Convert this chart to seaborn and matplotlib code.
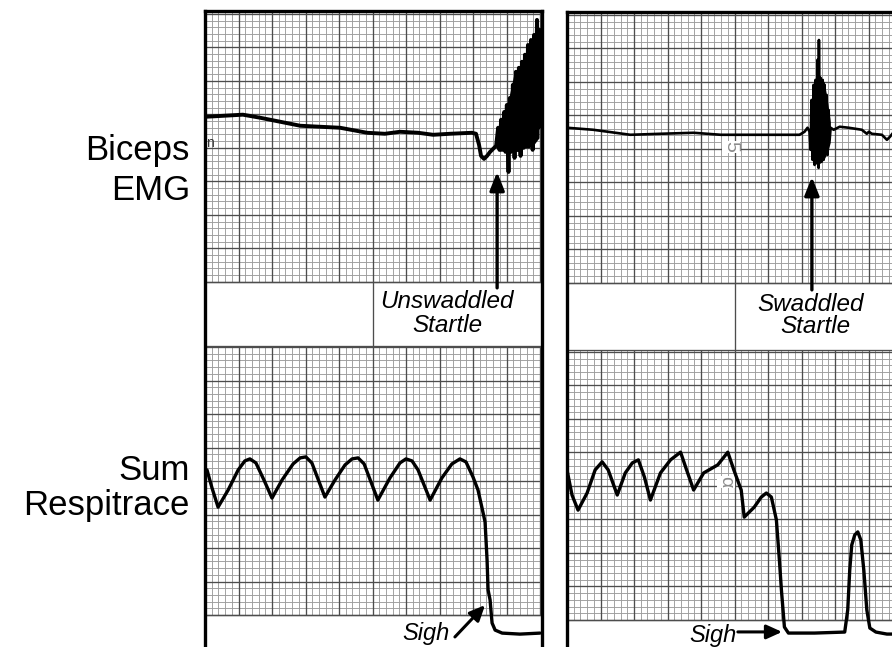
import numpy as np
import matplotlib
matplotlib.use("Agg")
import matplotlib.pyplot as plt
import seaborn as sns

# x: chart divisions from the panel's left edge, y: divisions above the grid bottom
# --- Biceps EMG, unswaddled startle (left panel)
emg_unsw_t = [0.06, 0.60, 1.13, 1.64, 2.24, 2.84, 3.43, 4.03, 4.84, 5.37, 5.82, 6.36,
              6.81, 7.31, 7.97, 8.09, 8.18, 8.24, 8.33, 8.42, 8.51, 8.63, 8.69, 8.75,
              8.79, 8.84, 8.88, 8.93, 8.97, 9.01, 9.06, 9.10, 9.15, 9.19, 9.24, 9.28,
              9.33, 9.37, 9.42, 9.46, 9.51, 9.55, 9.60, 9.64, 9.69, 9.73, 9.78, 9.82,
              9.87, 9.91, 9.96, 10.0]
emg_unsw_v = [4.93, 4.96, 4.99, 4.90, 4.78, 4.66, 4.63, 4.60, 4.45, 4.42, 4.48, 4.45,
              4.39, 4.42, 4.45, 4.42, 4.09, 3.76, 3.67, 3.76, 3.88, 4.00, 4.06, 4.60,
              3.94, 4.84, 4.06, 5.07, 3.88, 5.28, 3.28, 5.49, 3.94, 5.88, 3.70, 6.27,
              3.94, 6.39, 3.76, 6.57, 4.00, 6.78, 4.06, 7.07, 4.18, 7.22, 3.94, 7.37,
              4.30, 7.82, 4.60, 7.52]
burst_unsw_t = [8.78, 8.93, 9.07, 9.22, 9.37, 9.52, 9.67, 9.82, 9.97]
burst_unsw_hi = [4.6, 5.0, 5.5, 6.2, 6.4, 6.7, 7.1, 7.4, 7.6]
burst_unsw_lo = [3.9, 3.9, 3.8, 3.9, 3.9, 4.0, 4.0, 4.1, 4.3]

# --- Biceps EMG, swaddled startle (right panel)
emg_sw_t = [0.00, 0.78, 1.89, 2.79, 3.78, 4.59, 5.80, 6.94, 7.09, 7.18, 7.24,
            7.27, 7.30, 7.33, 7.36, 7.39, 7.42, 7.45, 7.48, 7.51, 7.52, 7.54,
            7.57, 7.60, 7.63, 7.66, 7.69, 7.72, 7.75, 7.78, 7.81, 7.84, 7.87,
            7.96, 8.14, 8.41, 8.80, 8.95, 9.01, 9.10, 9.40, 9.55, 9.64, 9.76]
emg_sw_v = [4.63, 4.57, 4.42, 4.45, 4.48, 4.42, 4.42, 4.42, 4.51, 4.63, 4.51,
            3.97, 5.46, 3.67, 5.91, 3.52, 6.06, 3.97, 6.66, 3.43, 7.25, 3.82,
            6.12, 3.61, 6.06, 3.67, 5.91, 3.97, 5.61, 3.82, 5.16, 4.27, 4.63,
            4.57, 4.66, 4.63, 4.57, 4.45, 4.51, 4.45, 4.42, 4.27, 4.36, 4.51]
burst_sw_t = [7.28, 7.38, 7.48, 7.58, 7.68, 7.78, 7.86]
burst_sw_hi = [5.0, 5.9, 6.1, 6.1, 6.0, 5.4, 4.8]
burst_sw_lo = [4.0, 3.6, 3.5, 3.6, 3.7, 3.9, 4.2]

# --- Sum Respitrace
resp_unsw_t = [0.06, 0.21, 0.39, 0.69, 0.99, 1.19, 1.34, 1.52, 1.76, 2.00,
               2.30, 2.63, 2.84, 3.01, 3.19, 3.58, 3.88, 4.18, 4.39, 4.57,
               4.75, 5.16, 5.52, 5.82, 6.00, 6.18, 6.36, 6.72, 7.07, 7.37,
               7.61, 7.79, 8.00, 8.15, 8.27, 8.36, 8.42, 8.45, 8.51, 8.54,
               8.57, 8.66, 8.87, 9.40, 10.0]
resp_unsw_v = [4.33, 3.79, 3.22, 3.73, 4.33, 4.60, 4.66, 4.54, 4.03, 3.49,
               4.03, 4.51, 4.69, 4.72, 4.54, 3.52, 4.03, 4.48, 4.66, 4.69,
               4.51, 3.43, 4.09, 4.54, 4.66, 4.60, 4.33, 3.43, 4.09, 4.51,
               4.66, 4.57, 4.12, 3.73, 3.19, 2.78, 1.64, 0.75, 0.45, 0.09,
               -0.24, -0.45, -0.54, -0.57, -0.54]
resp_sw_t = [0.00, 0.15, 0.33, 0.60, 0.84, 1.05, 1.23, 1.50, 1.74, 1.95,
             2.13, 2.31, 2.49, 2.79, 3.09, 3.39, 3.57, 3.78, 4.08, 4.50,
             4.80, 4.98, 5.20, 5.29, 5.59, 5.80, 5.95, 6.10, 6.25, 6.34,
             6.40, 6.49, 6.61, 7.39, 8.29, 8.38, 8.44, 8.50, 8.59, 8.68,
             8.77, 8.86, 8.95, 9.04, 9.22, 9.55, 9.85]
resp_sw_v = [4.48, 3.73, 3.28, 3.79, 4.48, 4.72, 4.48, 3.73, 4.39, 4.69,
             4.78, 4.27, 3.58, 4.39, 4.78, 5.01, 4.48, 3.88, 4.39, 4.63,
             5.01, 4.48, 3.88, 3.07, 3.37, 3.67, 3.79, 3.67, 2.99, 1.79,
             0.90, -0.21, -0.39, -0.39, -0.36, 0.30, 1.49, 2.24, 2.54, 2.63,
             2.39, 1.49, 0.30, -0.24, -0.36, -0.42, -0.42]

row_labels = [("Biceps", 160), ("EMG", 200), ("Sum", 480), ("Respitrace", 515)]

# --- style
sns.set_theme(style="white")
plt.rcParams['font.family'] = ['Liberation Sans', 'DejaVu Sans']
plt.rcParams['text.color'] = 'black'

W, H = 892, 647
DIV = 33.5          # pixels per major division of the chart paper
MINOR = '#9c9c9c'
MAJOR = '#4d4d4d'

fig = plt.figure(figsize=(W / 100, H / 100), dpi=100)
fig.patch.set_facecolor('white')


def draw_paper(ax, x_max, y_lo, y_hi):
    """Chart-paper grid: minor lines every 0.2 div, heavier every division."""
    xs = np.arange(0, x_max + 1e-9, 0.2)
    ys = np.arange(y_lo, y_hi + 1e-9, 0.2)
    ix, iy = np.arange(len(xs)), np.arange(len(ys))
    ax.vlines(xs[ix % 5 != 0], y_lo, y_hi, color=MINOR, lw=0.65, zorder=1)
    ax.hlines(ys[iy % 5 != 0], 0, x_max, color=MINOR, lw=0.65, zorder=1)
    ax.vlines(xs[ix % 5 == 0], y_lo, y_hi, color=MAJOR, lw=0.95, zorder=2)
    ax.hlines(ys[iy % 5 == 0], 0, x_max, color=MAJOR, lw=0.95, zorder=2)
    ax.hlines([y_lo, y_hi], 0, x_max, color=MAJOR, lw=0.95, zorder=2)


def panel(left_px, top_px, emg_base, strip_lo, resp_base):
    x_max = 10.06
    ax = fig.add_axes([left_px / W, 0, x_max * DIV / W, (H - top_px) / H])
    y_top = (H - top_px) / DIV
    ax.set_xlim(0, x_max)
    ax.set_ylim(0, y_top)
    ax.set_xticks([])
    ax.set_yticks([])
    ax.set_facecolor('white')
    draw_paper(ax, x_max, emg_base, y_top)
    draw_paper(ax, x_max, resp_base, strip_lo)
    ax.vlines(5, strip_lo, emg_base, color=MAJOR, lw=0.95, zorder=2)
    for side in ['left', 'top', 'right']:
        ax.spines[side].set_linewidth(2.4)
        ax.spines[side].set_color('black')
    ax.spines['bottom'].set_visible(False)
    return ax


ax_l = panel(205, 11, 10.90, 9.00, 0.955)
ax_r = panel(567, 12, 10.87, 8.87, 0.806)

# traces
sns.lineplot(x=emg_unsw_t, y=np.add(emg_unsw_v, 10.90), ax=ax_l, color='black',
             linewidth=2.8, sort=False, estimator=None, legend=False, zorder=5)
ax_l.fill_between(burst_unsw_t, np.add(burst_unsw_lo, 10.90), np.add(burst_unsw_hi, 10.90),
                  color='black', lw=0, zorder=5)
sns.lineplot(x=resp_unsw_t, y=np.add(resp_unsw_v, 0.955), ax=ax_l, color='black',
             linewidth=2.4, sort=False, estimator=None, legend=False, zorder=5)

sns.lineplot(x=emg_sw_t, y=np.add(emg_sw_v, 10.87), ax=ax_r, color='black',
             linewidth=1.9, sort=False, estimator=None, legend=False, zorder=5)
ax_r.fill_between(burst_sw_t, np.add(burst_sw_lo, 10.87), np.add(burst_sw_hi, 10.87),
                  color='black', lw=0, zorder=5)
sns.lineplot(x=resp_sw_t, y=np.add(resp_sw_v, 0.806), ax=ax_r, color='black',
             linewidth=2.4, sort=False, estimator=None, legend=False, zorder=5)

# paper markings
ax_r.text(4.9, 14.93, '5', rotation=-90, color='#8c8c8c', fontsize=14,
          ha='center', va='center', zorder=3,
          bbox=dict(facecolor='white', edgecolor='none', pad=0.5))
ax_r.text(4.75, 4.93, 'α', rotation=-90, color='#8c8c8c', fontsize=14,
          ha='center', va='center', zorder=3,
          bbox=dict(facecolor='white', edgecolor='none', pad=0.3))
ax_l.text(0.14, 15.04, 'n', color='#333333', fontsize=10, ha='center', va='center', zorder=3)

# startle arrows and labels
big_head = dict(arrowstyle='-|>,head_length=0.55,head_width=0.22', lw=2.4,
                color='black', shrinkA=0, shrinkB=0, mutation_scale=20)
small_head = dict(arrowstyle='-|>,head_length=0.55,head_width=0.25', lw=2.2,
                  color='black', shrinkA=0, shrinkB=0, mutation_scale=17)

ax_l.annotate('', xy=(8.72, 14.18), xytext=(8.72, 10.72), arrowprops=big_head, zorder=6)
ax_l.text(7.22, 10.12, 'Unswaddled', style='italic', fontsize=17.5, ha='center', va='baseline', zorder=6)
ax_l.text(7.24, 9.40, 'Startle', style='italic', fontsize=17.5, ha='center', va='baseline', zorder=6)

ax_r.annotate('', xy=(7.31, 14.03), xytext=(7.31, 10.66), arrowprops=big_head, zorder=6)
ax_r.text(7.28, 10.03, 'Swaddled', style='italic', fontsize=17.5, ha='center', va='baseline', zorder=6)
ax_r.text(7.40, 9.37, 'Startle', style='italic', fontsize=17.5, ha='center', va='baseline', zorder=6)

# sigh arrows and labels
ax_l.annotate('', xy=(8.36, 1.25), xytext=(7.46, 0.30), arrowprops=small_head, zorder=6)
ax_l.text(7.31, 0.21, 'Sigh', style='italic', fontsize=17, ha='right', va='baseline', zorder=6)
ax_r.annotate('', xy=(6.42, 0.45), xytext=(5.10, 0.45), arrowprops=small_head, zorder=6)
ax_r.text(5.07, 0.15, 'Sigh', style='italic', fontsize=17, ha='right', va='baseline', zorder=6)

# row labels
for text, baseline_px in row_labels:
    fig.text(190 / W, 1 - baseline_px / H, text, fontsize=25, ha='right', va='baseline')

fig.savefig('out.png', dpi=100)
